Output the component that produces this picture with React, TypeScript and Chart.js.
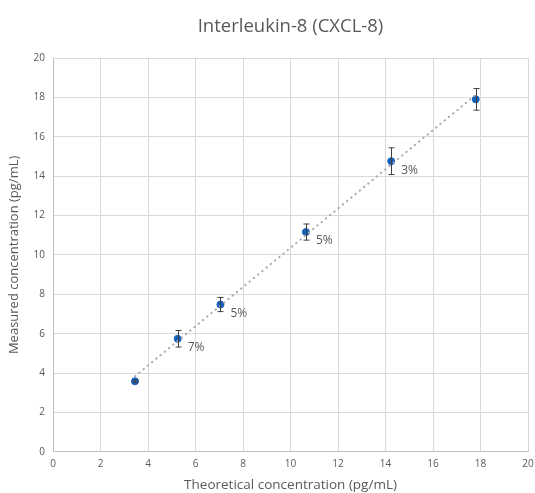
import React, { useEffect, useRef } from "react";
import { Chart, registerables } from "chart.js";

Chart.register(...registerables);

const theoretical = [3.45, 5.25, 7.05, 10.65, 14.24, 17.8];
const measured = [3.58, 5.74, 7.48, 11.16, 14.76, 17.9];
const errors = [0.06, 0.42, 0.36, 0.41, 0.68, 0.55];
const cvLabels = ["", "7%", "5%", "5%", "3%", ""];
const titleText = "Interleukin-8 (CXCL-8)";
const xTitle = "Theoretical concentration (pg/mL)";
const yTitle = "Measured concentration (pg/mL)";

const FONT = "'Open Sans', 'Noto Sans', sans-serif";
const TEXT = "#595959";

function regression(xs: number[], ys: number[]) {
  const n = xs.length;
  const mx = xs.reduce((a, b) => a + b, 0) / n;
  const my = ys.reduce((a, b) => a + b, 0) / n;
  let num = 0;
  let den = 0;
  for (let i = 0; i < n; i++) {
    num += (xs[i] - mx) * (ys[i] - my);
    den += (xs[i] - mx) * (xs[i] - mx);
  }
  const m = num / den;
  return { m, b: my - m * mx };
}

const extrasPlugin = {
  id: "extras",
  afterDatasetsDraw(chart: any) {
    const ctx = chart.ctx;
    const xs = chart.scales.x;
    const ys = chart.scales.y;
    ctx.save();
    // error bars
    ctx.strokeStyle = "#404040";
    ctx.lineWidth = 1;
    for (let i = 0; i < theoretical.length; i++) {
      const px = Math.round(xs.getPixelForValue(theoretical[i])) + 0.5;
      const top = ys.getPixelForValue(measured[i] + errors[i]);
      const bot = ys.getPixelForValue(measured[i] - errors[i]);
      ctx.beginPath();
      ctx.moveTo(px, top);
      ctx.lineTo(px, bot);
      ctx.moveTo(px - 3, top);
      ctx.lineTo(px + 3, top);
      ctx.moveTo(px - 3, bot);
      ctx.lineTo(px + 3, bot);
      ctx.stroke();
    }
    // labels
    ctx.fillStyle = TEXT;
    ctx.font = `12px ${FONT}`;
    ctx.textAlign = "left";
    ctx.textBaseline = "middle";
    for (let i = 0; i < theoretical.length; i++) {
      if (!cvLabels[i]) continue;
      const px = xs.getPixelForValue(theoretical[i]);
      const py = ys.getPixelForValue(measured[i]);
      ctx.fillText(cvLabels[i], px + 10, py + 9);
    }
    // title centred over chart area
    const ca = chart.chartArea;
    ctx.font = `18.5px ${FONT}`;
    ctx.textAlign = "center";
    ctx.fillText(titleText, (ca.left + ca.right) / 2, 27);
    ctx.restore();
  },
};

export default function App() {
  const ref = useRef<HTMLCanvasElement>(null);
  useEffect(() => {
    if (!ref.current) return;
    const { m, b } = regression(theoretical, measured);
    const xMin = Math.min(...theoretical);
    const xMax = Math.max(...theoretical);
    const chart = new Chart(ref.current, {
      type: "scatter",
      data: {
        datasets: [
          {
            type: "line",
            label: "trend",
            data: [
              { x: xMin, y: m * xMin + b },
              { x: xMax, y: m * xMax + b },
            ],
            borderColor: "#a3abb4",
            borderWidth: 2,
            borderDash: [0.5, 5],
            borderCapStyle: "round",
            pointRadius: 0,
            fill: false,
          } as any,
          {
            label: "data",
            data: theoretical.map((x, i) => ({ x, y: measured[i] })),
            backgroundColor: "#1560bd",
            borderColor: "#1560bd",
            pointRadius: 3.5,
          },
        ],
      },
      options: {
        responsive: false,
        animation: false,
        layout: { padding: { top: 58, right: 0, left: 6, bottom: 0 } },
        plugins: {
          legend: { display: false },
          tooltip: { enabled: false },
          title: { display: false },
        },
        scales: {
          x: {
            type: "linear",
            min: 0,
            max: 20,
            afterFit(scale: any) {
              scale.paddingRight = 7;
              scale.paddingLeft = 0;
            },
            ticks: { stepSize: 2, color: TEXT, font: { size: 10, family: FONT }, padding: 6 },
            grid: { color: "#d9d9d9", drawTicks: false },
            border: { color: "#bfbfbf" },
            title: { display: true, text: xTitle, color: TEXT, font: { size: 13.5, family: FONT }, padding: { top: 1, bottom: 0 } },
          },
          y: {
            min: 0,
            max: 20,
            ticks: { stepSize: 2, color: TEXT, font: { size: 10, family: FONT }, padding: 8 },
            grid: { color: "#d9d9d9", drawTicks: false },
            border: { color: "#bfbfbf" },
            title: { display: true, text: yTitle, color: TEXT, font: { size: 13, family: FONT }, padding: { top: 0, bottom: 4 } },
          },
        },
      } as any,
      plugins: [extrasPlugin],
    });
    return () => chart.destroy();
  }, []);
  return (
    <div style={{ position: "fixed", left: 0, top: 0, width: 535, height: 493, background: "#fff" }}>
      <canvas ref={ref} width={535} height={493} />
    </div>
  );
}
